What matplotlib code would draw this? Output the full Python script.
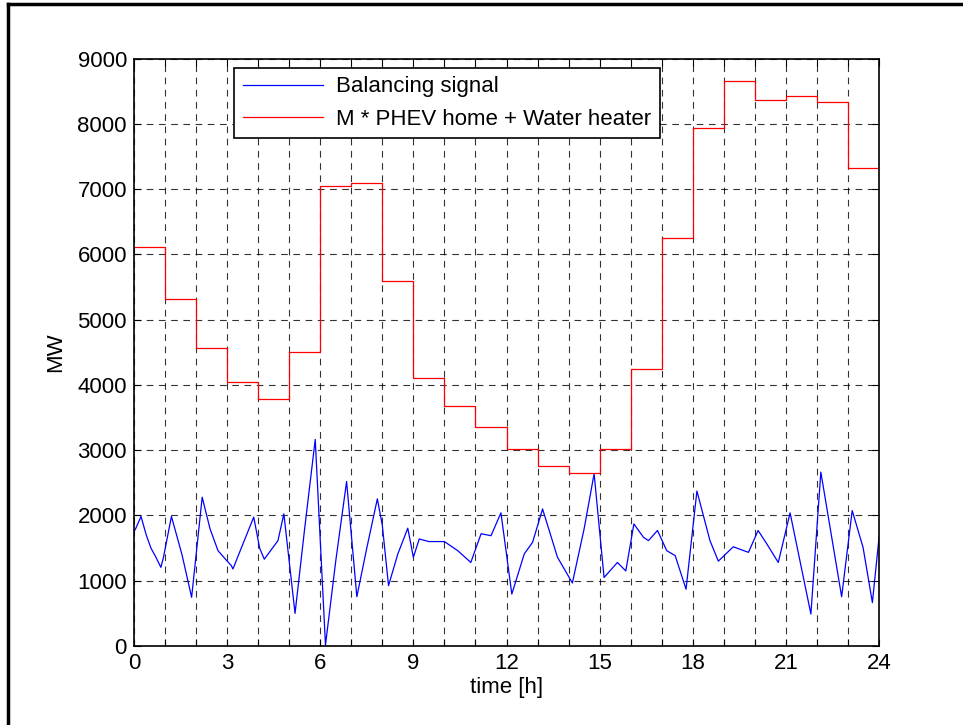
import numpy as np
import matplotlib
matplotlib.use('Agg')
import matplotlib.pyplot as plt
from matplotlib.lines import Line2D

plt.rcParams['font.family'] = ['Liberation Sans', 'DejaVu Sans']

# balancing signal (hour, MW)
bal_t = [0.0, 0.06, 0.23, 0.4, 0.55, 0.7, 0.87, 0.95, 1.21, 1.55, 1.86, 2.2, 2.45, 2.71,
         2.95, 3.14, 3.19, 3.5, 3.86, 4.05, 4.2, 4.64, 4.83, 5.19, 5.5, 5.84, 6.17,
         6.5, 6.85, 7.18, 7.5, 7.84, 8.0, 8.2, 8.5, 8.82, 9.0, 9.19, 9.5, 10.0,
         10.43, 10.85, 11.18, 11.5, 11.82, 12.17, 12.57, 12.84, 13.16, 13.64,
         14.12, 14.5, 14.82, 15.14, 15.57, 15.84, 16.1, 16.41, 16.57, 16.86,
         17.16, 17.43, 17.78, 18.13, 18.55, 18.82, 19.3, 19.79, 20.1, 20.38,
         20.75, 21.13, 21.8, 22.12, 22.79, 23.13, 23.48, 23.78, 24.0]
bal_mw = [1750, 1800, 1985, 1700, 1500, 1370, 1205, 1350, 1985, 1400, 745, 2280, 1800,
          1460, 1330, 1230, 1180, 1550, 1975, 1500, 1330, 1615, 2025, 500, 1800, 3165,
          15, 1300, 2520, 755, 1500, 2255, 1850, 925, 1410, 1805, 1360, 1640, 1600,
          1600, 1460, 1280, 1720, 1690, 2040, 795, 1410, 1590, 2100, 1360,
          965, 1800, 2640, 1050, 1280, 1150, 1870, 1665, 1615, 1770,
          1460, 1385, 870, 2375, 1615, 1300, 1520, 1435, 1770, 1565,
          1280, 2040, 490, 2665, 755, 2075, 1510, 665, 1690]

# hourly step profile
hours = list(range(25))
phev_mw = [6120, 5320, 4570, 4050, 3780, 4510, 7050, 7090, 5590, 4100, 3680, 3350,
           3025, 2760, 2650, 3025, 4250, 6260, 7945, 8665, 8360, 8435, 8330, 7330]

fig = plt.figure(figsize=(9.63, 7.25), dpi=100)
ax = fig.add_axes([0.139, 0.109, 0.774, 0.81])

ax.plot(bal_t, bal_mw, color='blue', lw=0.9, label='Balancing signal')
ax.step(hours, phev_mw + [phev_mw[-1]], where='post', color='red', lw=0.9,
        label='M * PHEV home + Water heater')

ax.set_xlim(0, 24)
ax.set_ylim(0, 9000)
ax.set_xticks(hours)
ax.set_xticklabels([str(h) if h % 3 == 0 else '' for h in hours])
ax.set_yticks(range(0, 9001, 1000))
ax.tick_params(direction='in', top=True, right=True, length=5, labelsize=16, pad=5)
ax.grid(True, color='black', linestyle=(0, (6, 5)), lw=0.8, alpha=0.8)
for s in ax.spines.values():
    s.set_linewidth(1.2)

ax.set_xlabel('time [h]', fontsize=16, labelpad=2)
ax.set_ylabel('MW', fontsize=16, labelpad=8)

leg = ax.legend(loc='upper left', bbox_to_anchor=(0.134, 0.985), borderaxespad=0,
                fancybox=False, edgecolor='black', framealpha=1, fontsize=16,
                handlelength=3.6, handletextpad=0.6, borderpad=0.4, labelspacing=0.5)
leg.get_frame().set_linewidth(1.2)

# outer frame around the figure
fig.add_artist(Line2D([8 / 963, 1], [1 - 4 / 725, 1 - 4 / 725], color='black', lw=2.5))
fig.add_artist(Line2D([8 / 963, 8 / 963], [0, 1 - 4 / 725], color='black', lw=2.5))

fig.savefig('out.png', dpi=100)
